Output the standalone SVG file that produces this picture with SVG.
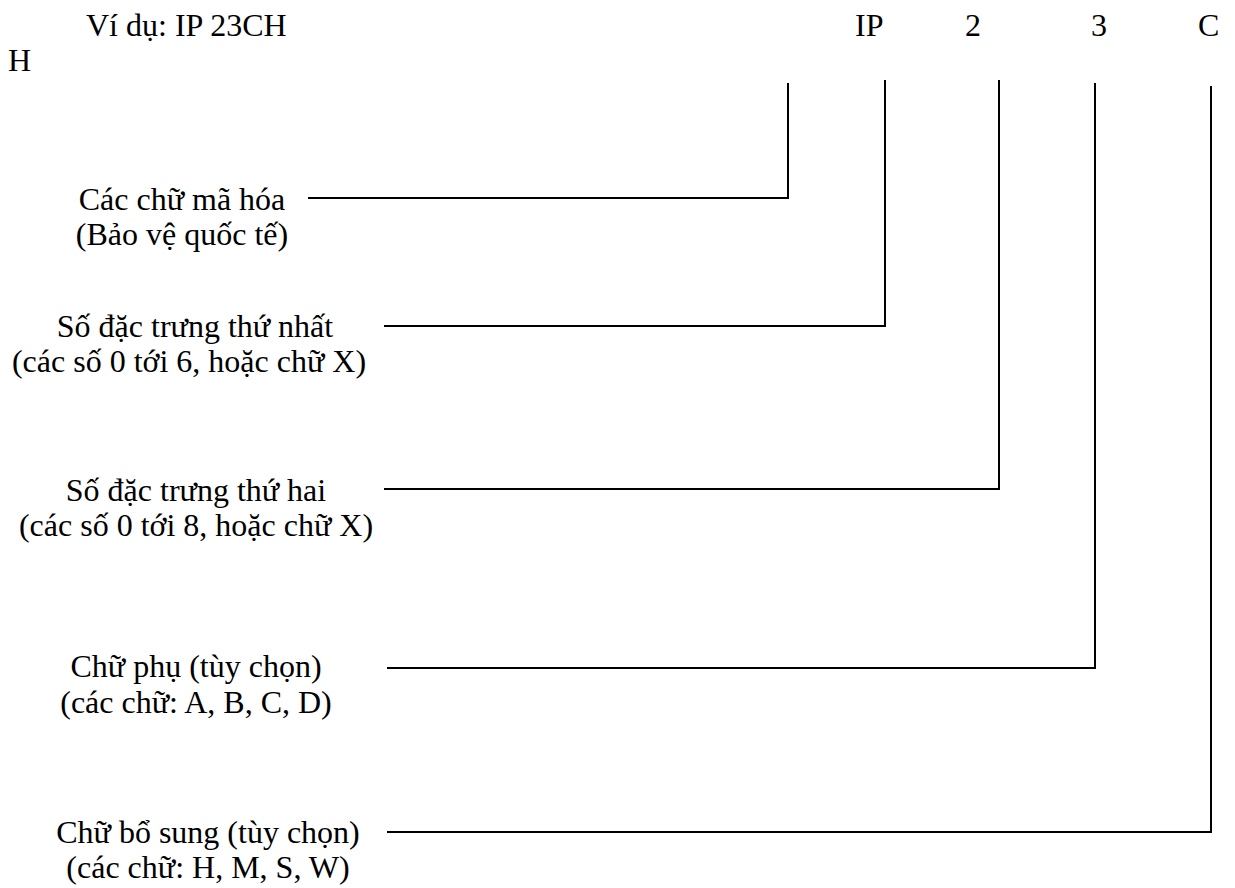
<svg xmlns="http://www.w3.org/2000/svg" width="1235" height="888" viewBox="0 0 1235 888">
<style>
text { font-family: "Liberation Serif", "Times New Roman", serif; font-size: 32px; fill: #000; }
.c { text-anchor: middle; }
.ln { fill: none; stroke: #000; stroke-width: 2; }
</style>
<rect width="1235" height="888" fill="#fff"/>
<g id="header">
<text x="86" y="36">Ví dụ: IP 23CH</text>
<text x="8" y="71">H</text>
<text x="855" y="36">IP</text>
<text x="965" y="36">2</text>
<text x="1091" y="36">3</text>
<text x="1198" y="36">C</text>
</g>
<g id="label1">
<text class="c" x="182" y="210">Các chữ mã hóa</text>
<text class="c" x="182" y="245">(Bảo vệ quốc tế)</text>
</g>
<g id="label2">
<text class="c" x="195" y="337">Số đặc trưng thứ nhất</text>
<text class="c" x="189" y="372">(các số 0 tới 6, hoặc chữ X)</text>
</g>
<g id="label3">
<text class="c" x="196" y="501">Số đặc trưng thứ hai</text>
<text class="c" x="196" y="536">(các số 0 tới 8, hoặc chữ X)</text>
</g>
<g id="label4">
<text class="c" x="196" y="677">Chữ phụ (tùy chọn)</text>
<text class="c" x="196" y="713">(các chữ: A, B, C, D)</text>
</g>
<g id="label5">
<text class="c" x="208" y="843">Chữ bổ sung (tùy chọn)</text>
<text class="c" x="208" y="878">(các chữ: H, M, S, W)</text>
</g>
<g id="connectors">
<polyline class="ln" points="308,198 788,198 788,83"/>
<polyline class="ln" points="384,326 885,326 885,80"/>
<polyline class="ln" points="384,489 999,489 999,80"/>
<polyline class="ln" points="387,668 1095,668 1095,83"/>
<polyline class="ln" points="387,832 1211,832 1211,86"/>
</g>
</svg>
